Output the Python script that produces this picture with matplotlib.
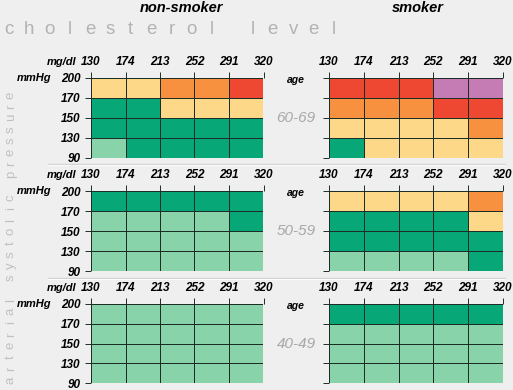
import matplotlib
matplotlib.use("Agg")
import matplotlib.pyplot as plt
import numpy as np
from matplotlib.colors import ListedColormap, BoundaryNorm

plt.rcParams['font.family'] = ['Liberation Sans', 'DejaVu Sans']

# cholesterol bin edges (mg/dl) and systolic pressure edges (mmHg, top to bottom)
chol = ['130', '174', '213', '252', '291', '320']
bp = ['200', '170', '150', '130', '90']
ages = ['60-69', '50-59', '40-49']
groups = ['non-smoker', 'smoker']

# risk level per cell: 0 light green, 1 green, 2 yellow, 3 orange, 4 red, 5 purple
# rows top (200-170) to bottom (130-90)
risk = {
    ('non-smoker', '60-69'): [[2, 2, 3, 3, 4],
                              [1, 1, 2, 2, 2],
                              [1, 1, 1, 1, 1],
                              [0, 1, 1, 1, 1]],
    ('smoker', '60-69'): [[4, 4, 4, 5, 5],
                          [3, 3, 3, 4, 4],
                          [2, 2, 2, 2, 3],
                          [1, 2, 2, 2, 2]],
    ('non-smoker', '50-59'): [[1, 1, 1, 1, 1],
                              [0, 0, 0, 0, 1],
                              [0, 0, 0, 0, 0],
                              [0, 0, 0, 0, 0]],
    ('smoker', '50-59'): [[2, 2, 2, 2, 3],
                          [1, 1, 1, 1, 2],
                          [1, 1, 1, 1, 1],
                          [0, 0, 0, 0, 1]],
    ('non-smoker', '40-49'): [[0, 0, 0, 0, 0],
                              [0, 0, 0, 0, 0],
                              [0, 0, 0, 0, 0],
                              [0, 0, 0, 0, 0]],
    ('smoker', '40-49'): [[1, 1, 1, 1, 1],
                          [0, 0, 0, 0, 0],
                          [0, 0, 0, 0, 0],
                          [0, 0, 0, 0, 0]],
}

colors = ['#88d3a9', '#07a777', '#fdd888', '#f8913f', '#ee4833', '#c57bb3']
cmap = ListedColormap(colors)
norm = BoundaryNorm(np.arange(-0.5, 6.5, 1), cmap.N)

W, H = 513, 390
bg = '#efefef'
fig = plt.figure(figsize=(W / 100, H / 100), dpi=100, facecolor=bg)

# overlay in pixel coordinates for the free text
ov = fig.add_axes([0, 0, 1, 1])
ov.set_xlim(0, W)
ov.set_ylim(H, 0)
ov.axis('off')

col_px = [(91, 263.5), (329, 503)]
row_px = [(78, 158), (191, 271), (304, 383)]

tick_font = dict(fontsize=8.5, fontweight='bold', fontstyle='italic')
edge = '#1c2d25'

for r, age in enumerate(ages):
    y0, y1 = row_px[r]
    for c, grp in enumerate(groups):
        x0, x1 = col_px[c]
        ax = fig.add_axes([x0 / W, 1 - y1 / H, (x1 - x0) / W, (y1 - y0) / H])
        data = np.array(risk[(grp, age)])
        ax.pcolormesh(np.arange(6), np.arange(5), data, cmap=cmap, norm=norm,
                      edgecolors=edge, linewidth=0.55)
        ax.set_xlim(0, 5)
        ax.set_ylim(4, 0)
        for s in ax.spines.values():
            s.set_visible(False)
        ax.xaxis.tick_top()
        ax.set_xticks(range(6))
        ax.set_xticklabels(chol, **tick_font)
        ax.set_yticks(range(5))
        ax.tick_params(axis='x', length=4.5, width=0.7, color=edge, pad=3)
        ax.tick_params(axis='y', length=4.5, width=0.7, color=edge, pad=3)
        if c == 0:
            ax.set_yticklabels(bp, **tick_font)
            ov.text(76, y0 - 16, 'mg/dl', ha='right', va='center',
                    fontsize=8, fontweight='bold', fontstyle='italic')
            ov.text(51, y0, 'mmHg', ha='right', va='center',
                    fontsize=8, fontweight='bold', fontstyle='italic')
        else:
            ax.set_yticklabels([])
            ov.text(296, y0 + 2, 'age', ha='center', va='center',
                    fontsize=7.5, fontweight='bold', fontstyle='italic')
            ov.text(296, y0 + 40, age, ha='center', va='center',
                    fontsize=11, fontstyle='italic', color='#a8a8a8')

# separators between age bands
for ys in [163.5, 277.5]:
    ov.plot([48, 505], [ys, ys], color='#d2d2d2', lw=1)
    ov.plot([48, 505], [ys + 1, ys + 1], color='#fafafa', lw=0.8)

ov.text(181, 8, 'non-smoker', ha='center', va='center',
        fontsize=10.5, fontweight='bold', fontstyle='italic')
ov.text(418, 8, 'smoker', ha='center', va='center',
        fontsize=10.5, fontweight='bold', fontstyle='italic')

top_label = 'cholesterol level'
for i, ch in enumerate(top_label):
    ov.text(9 + i * 20.3, 29, ch, ha='center', va='center',
            fontsize=13.5, color='#b3b3b3')

side_label = 'arterial systolic pressure'
for i, ch in enumerate(side_label):
    ov.text(11, 380 - i * 11.4, ch, ha='center', va='center', rotation=90,
            fontsize=9.5, color='#c0c0c0')

fig.savefig('out.png', dpi=100, facecolor=bg)
